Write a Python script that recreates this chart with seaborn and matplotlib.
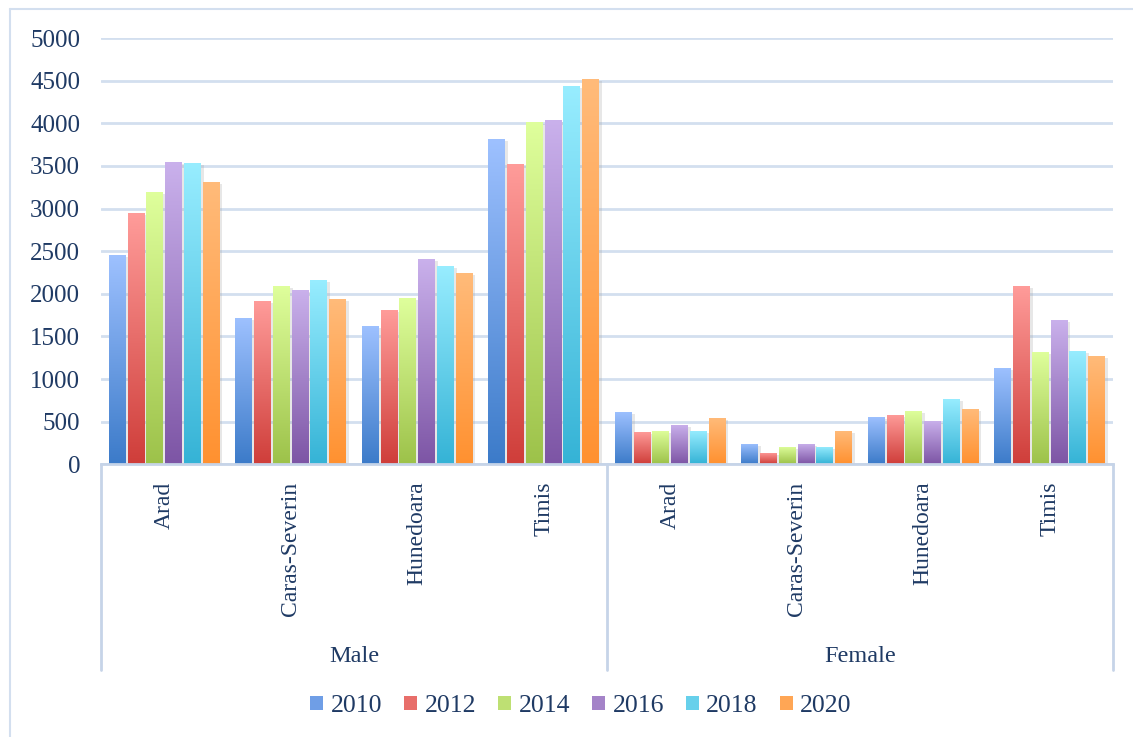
import numpy as np
import pandas as pd
import seaborn as sns
import matplotlib
matplotlib.use("Agg")
import matplotlib.pyplot as plt
import matplotlib.patheffects as pe
from matplotlib.patches import Patch
from matplotlib.lines import Line2D
from matplotlib.colors import to_rgb
import matplotlib.transforms as mtransforms

# ---------------- data ----------------
sexes = ["Male", "Female"]
counties = ["Arad", "Caras-Severin", "Hunedoara", "Timis"]
years = ["2010", "2012", "2014", "2016", "2018", "2020"]

# values ordered: Male (Arad, Caras-Severin, Hunedoara, Timis), Female (same order)
v2010 = [2460, 1720, 1625, 3820, 615, 240, 555, 1130]
v2012 = [2950, 1915, 1810, 3525, 380, 135, 580, 2095]
v2014 = [3200, 2095, 1955, 4020, 390, 205, 625, 1320]
v2016 = [3550, 2045, 2410, 4040, 460, 240, 510, 1695]
v2018 = [3540, 2165, 2330, 4440, 390, 205, 765, 1330]
v2020 = [3315, 1940, 2245, 4520, 545, 390, 650, 1270]
series = [v2010, v2012, v2014, v2016, v2018, v2020]

yticks = [0, 500, 1000, 1500, 2000, 2500, 3000, 3500, 4000, 4500, 5000]

# ---------------- styling ----------------
top_cols = ["#9EC1FF", "#FF9C9A", "#DFFF9C", "#CAB1EC", "#98EDFF", "#FFBB7A"]
bot_cols = ["#3C7BC9", "#CF3E3A", "#9DC24A", "#7D55A5", "#35B3D6", "#FF9130"]
mid_cols = ["#6F9EE6", "#E86E6A", "#BEE073", "#A483C8", "#67D0EB", "#FFA655"]
text_col = "#1F3A64"
line_col = "#D3DFEF"

rows = []
keys = []
for si, sex in enumerate(sexes):
    for ci, county in enumerate(counties):
        key = f"{sex}|{county}"
        keys.append(key)
        idx = si * len(counties) + ci
        for yi, yr in enumerate(years):
            rows.append({"key": key, "county": county, "sex": sex,
                         "year": yr, "value": series[yi][idx]})
df = pd.DataFrame(rows)

sns.set_theme(style="white")
plt.rcParams['font.family'] = ['Liberation Serif', 'DejaVu Serif']

W, H = 1133, 737
fig = plt.figure(figsize=(W / 100, H / 100), dpi=100)
x0, x1 = 101, 1113
y_top, y_bot = 38.1, 464.3
ax = fig.add_axes([x0 / W, 1 - y_bot / H, (x1 - x0) / W, (y_bot - y_top) / H])

sns.barplot(data=df, x="key", y="value", hue="year", order=keys,
            hue_order=years, palette=mid_cols, width=0.89, gap=0.1,
            ax=ax, legend=False, errorbar=None, saturation=1)

ax.set_ylim(0, 5000)
ax.set_xlim(-0.5, len(keys) - 0.5)

# gradient fill for each bar
for ci, cont in enumerate(ax.containers):
    t = np.array(to_rgb(top_cols[ci]))
    b = np.array(to_rgb(bot_cols[ci]))
    grad = np.linspace(0, 1, 128)[:, None, None]
    img = t[None, None, :] * (1 - grad) + b[None, None, :] * grad
    for bar in cont:
        bar.set_edgecolor("none")
        bar.set_path_effects([pe.SimplePatchShadow(offset=(2, -1.5),
                                                   shadow_rgbFace="#a0a0a0", alpha=0.25),
                              pe.Normal()])
        bx, by = bar.get_x(), bar.get_y()
        bw, bh = bar.get_width(), bar.get_height()
        im = ax.imshow(img, extent=[bx, bx + bw, by, by + bh], origin="upper",
                       aspect="auto", zorder=bar.get_zorder() + 0.1,
                       interpolation="bilinear")
        im.set_clip_path(bar)

ax.set_ylim(0, 5000)
ax.set_xlim(-0.5, len(keys) - 0.5)
ax.set_aspect("auto")

# axes styling
for s in ["top", "right", "left"]:
    ax.spines[s].set_visible(False)
ax.spines["bottom"].set_color("#C6D4E8")
ax.spines["bottom"].set_linewidth(2)
ax.set_yticks(yticks)
ax.set_yticklabels([str(v) for v in yticks], fontsize=18, color=text_col)
ax.yaxis.grid(True, color=line_col, linewidth=2)
ax.set_axisbelow(True)
ax.tick_params(axis="y", length=0, pad=15)
ax.tick_params(axis="x", length=0, pad=12.5)
ax.set_xticks(range(len(keys)))
ax.set_xticklabels([k.split("|")[1] for k in keys], rotation=90,
                   fontsize=17, color=text_col)
ax.set_xlabel("")
ax.set_ylabel("")

# hierarchical category separators and group labels
trans = mtransforms.blended_transform_factory(ax.transData, ax.transAxes)
sep_bottom = -(670 - y_bot) / (y_bot - y_top)
for xs in [-0.5, 3.5, 7.5]:
    ax.add_line(Line2D([xs, xs], [0, sep_bottom], transform=trans,
                       color="#C6D4E8", lw=2, clip_on=False))
lab_y = -(656 - y_bot) / (y_bot - y_top)
for si, sex in enumerate(sexes):
    ax.text(si * 4 + 1.5, lab_y, sex, transform=trans, ha="center",
            va="center", fontsize=17.5, color=text_col)

# legend
handles = [Patch(facecolor=mid_cols[i], edgecolor="none", label=years[i])
           for i in range(len(years))]
fig.legend(handles=handles, loc="center", ncol=6, frameon=False,
           bbox_to_anchor=(581 / W, 1 - 706 / H), fontsize=18.5,
           labelcolor=text_col, handlelength=0.5, handleheight=0.5,
           handletextpad=0.3, columnspacing=0.85)

# outer chart frame (partially visible)
fig.add_artist(Line2D([10 / W, 10 / W], [0, 1 - 9 / H], color=line_col, lw=1.5,
                      transform=fig.transFigure))
fig.add_artist(Line2D([10 / W, 1], [1 - 9 / H, 1 - 9 / H], color=line_col, lw=1.5,
                      transform=fig.transFigure))

fig.savefig("out.png", dpi=100)
